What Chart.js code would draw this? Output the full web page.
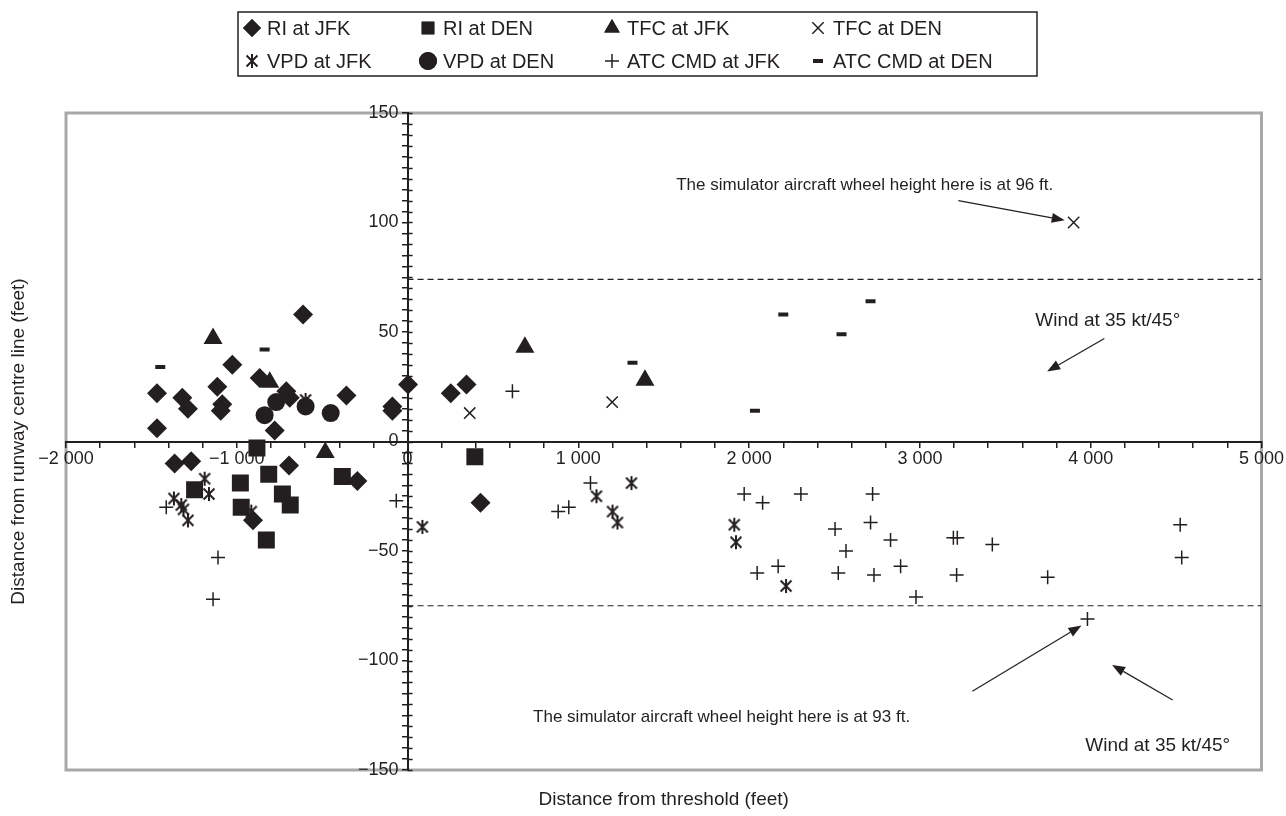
<!DOCTYPE html>
<html>
<head>
<meta charset="utf-8">
<script src="https://cdn.jsdelivr.net/npm/chart.js@4"></script>
<style>
  html, body { margin: 0; padding: 0; background: #fff; }
</style>
</head>
<body>
<canvas id="chart" width="1286" height="816"></canvas>
<script>
// Series: [distance from threshold, distance from centre line] in feet
const seriesNames = ['RI at JFK', 'RI at DEN', 'TFC at JFK', 'TFC at DEN',
                     'VPD at JFK', 'VPD at DEN', 'ATC CMD at JFK', 'ATC CMD at DEN'];

const riJfk = [[-612, 58], [-1026, 35], [-866, 29], [-1114, 25], [-1467, 22], [-1319, 20],
  [-1286, 15], [-1085, 17], [-1094, 14], [-710, 23], [-690, 20], [-358, 21], [-1467, 6],
  [-778, 5], [3, 26], [-89, 16], [-89, 14], [253, 22], [345, 26], [-1364, -10], [-1267, -9],
  [-694, -11], [-905, -36], [-294, -18], [427, -28]];
const riDen = [[-882, -3], [-813, -15], [-1247, -22], [-979, -19], [-974, -30], [-733, -24],
  [-687, -29], [-827, -45], [-382, -16], [394, -7]];
const tfcJfk = [[-1139, 47], [-807, 27], [-482, -5], [687, 43], [1390, 28]];
const tfcDen = [[364, 13], [1198, 18], [3900, 100]];
const vpdJfk = [[-597, 19], [87, -39], [1106, -25], [1200, -32], [1229, -37], [1311, -19],
  [1913, -38], [1923, -46], [2216, -66], [-1368, -26], [-1325, -29], [-1312, -31],
  [-1286, -36], [-1188, -17], [-1163, -24], [-915, -32]];
const vpdDen = [[-837, 12], [-769, 18], [-597, 16], [-450, 13]];
const atcJfk = [[-1413, -30], [-1110, -53], [-1139, -72], [-66, -27], [614, 23], [944, -30],
  [882, -32], [1071, -19], [1971, -24], [2079, -28], [2303, -24], [2723, -24], [2503, -40],
  [2711, -37], [2828, -45], [2567, -50], [3196, -44], [3219, -44], [2047, -60], [2170, -57],
  [2522, -60], [2731, -61], [2887, -57], [3215, -61], [2977, -71], [3424, -47], [3748, -62],
  [4524, -38], [4533, -53], [3981, -81]];
const atcDen = [[-1448, 34], [-837, 42], [1317, 36], [2034, 14], [2200, 58], [2541, 49], [2711, 64]];

// dashed lateral limits
const limitFrom = 0, limitTo = 5000;
const limitUpper = 74, limitLower = -75;

// axis ranges
const xMin = -2000, xMax = 5000, xStep = 200, xLabelEvery = 1000;
const yMin = -150, yMax = 150, yStep = 5, yLabelEvery = 50;

const INK = '#231f20';
const FONT = '"Liberation Sans", Arial, Helvetica, sans-serif';

function toXY(pairs) { return pairs.map(p => ({ x: p[0], y: p[1] })); }

function fmt(v) {
  const s = Math.abs(v).toString().replace(/\B(?=(\d{3})+(?!\d))/g, ' ');
  return (v < 0 ? '\u2212' : '') + s;
}

// asterisk marker (vertical bar plus an X)
function makeAsterisk(size) {
  const c = document.createElement('canvas');
  c.width = size; c.height = size;
  const g = c.getContext('2d');
  const m = size / 2, r = size / 2 - 1, d = r * 0.78;
  g.strokeStyle = INK;
  g.lineWidth = 2;
  g.beginPath();
  g.moveTo(m, m - r); g.lineTo(m, m + r);
  g.moveTo(m - d, m - d); g.lineTo(m + d, m + d);
  g.moveTo(m + d, m - d); g.lineTo(m - d, m + d);
  g.stroke();
  return c;
}
const asterisk = makeAsterisk(16);

function series(i, pairs, style, radius, extra) {
  return Object.assign({
    label: seriesNames[i],
    data: toXY(pairs),
    pointStyle: style,
    pointRadius: radius,
    pointHoverRadius: radius,
    backgroundColor: INK,
    borderColor: INK,
    borderWidth: 0,
    showLine: false
  }, extra || {});
}

function limitLine(y) {
  return {
    type: 'line',
    label: '',
    data: [{ x: limitFrom, y: y }, { x: limitTo, y: y }],
    borderColor: INK,
    borderWidth: 1.2,
    borderDash: [6, 4],
    pointRadius: 0,
    showLine: true,
    fill: false
  };
}

// annotation texts and arrows, positioned in data units
const notes = [
  { text: 'The simulator aircraft wheel height here is at 96 ft.', x: 1573, y: 117, size: 17 },
  { text: 'Wind at 35 kt/45\u00b0', x: 3676, y: 55, size: 19 },
  { text: 'The simulator aircraft wheel height here is at 93 ft.', x: 735, y: -126, size: 17 },
  { text: 'Wind at 35 kt/45\u00b0', x: 3968, y: -139, size: 19 }
];
const arrows = [
  { from: [3225, 110], to: [3848, 101] },
  { from: [4080, 47], to: [3745, 32] },
  { from: [3307, -114], to: [3946, -84] },
  { from: [4480, -118], to: [4125, -102] }
];

// legend grid
const legendBox = { left: 238, top: 12, right: 1037, bottom: 76 };
const legendCols = [252, 428, 612, 818];
const legendRows = [28, 61];

function drawArrow(ctx, x1, y1, x2, y2) {
  const a = Math.atan2(y2 - y1, x2 - x1);
  const hl = 13, hw = 5;
  const bx = x2 - hl * Math.cos(a), by = y2 - hl * Math.sin(a);
  ctx.beginPath();
  ctx.moveTo(x1, y1);
  ctx.lineTo(bx, by);
  ctx.stroke();
  ctx.beginPath();
  ctx.moveTo(x2, y2);
  ctx.lineTo(bx + hw * Math.sin(a), by - hw * Math.cos(a));
  ctx.lineTo(bx - hw * Math.sin(a), by + hw * Math.cos(a));
  ctx.closePath();
  ctx.fill();
}

const decor = {
  id: 'decor',
  beforeDraw(chart) {
    const { ctx, chartArea: a } = chart;
    ctx.save();
    ctx.strokeStyle = '#a8a8a8';
    ctx.lineWidth = 3;
    ctx.strokeRect(a.left, a.top, a.right - a.left, a.bottom - a.top);
    ctx.restore();
  },
  afterDraw(chart) {
    const { ctx, chartArea: a } = chart;
    const xs = chart.scales.x, ys = chart.scales.y;
    ctx.save();

    // y ticks also poke out to the right of the axis
    const x0 = xs.getPixelForValue(0);
    ctx.strokeStyle = INK;
    ctx.lineWidth = 1.5;
    ctx.beginPath();
    ys.ticks.forEach(t => {
      const py = Math.round(ys.getPixelForValue(t.value)) + 0.5;
      ctx.moveTo(x0, py);
      ctx.lineTo(x0 + 5, py);
    });
    ctx.stroke();

    // axis titles
    ctx.fillStyle = INK;
    ctx.font = '19px ' + FONT;
    ctx.textAlign = 'center';
    ctx.textBaseline = 'middle';
    ctx.fillText('Distance from threshold (feet)', (a.left + a.right) / 2, a.bottom + 30);
    ctx.save();
    ctx.translate(19, (a.top + a.bottom) / 2);
    ctx.rotate(-Math.PI / 2);
    ctx.fillText('Distance from runway centre line (feet)', 0, 0);
    ctx.restore();

    // annotations
    ctx.textAlign = 'left';
    notes.forEach(n => {
      ctx.font = n.size + 'px ' + FONT;
      ctx.fillText(n.text, xs.getPixelForValue(n.x), ys.getPixelForValue(n.y));
    });
    ctx.lineWidth = 1.2;
    arrows.forEach(ar => drawArrow(ctx,
      xs.getPixelForValue(ar.from[0]), ys.getPixelForValue(ar.from[1]),
      xs.getPixelForValue(ar.to[0]), ys.getPixelForValue(ar.to[1])));

    // legend
    const b = legendBox;
    ctx.lineWidth = 1.5;
    ctx.strokeRect(b.left, b.top, b.right - b.left, b.bottom - b.top);
    ctx.font = '20px ' + FONT;
    chart.data.datasets.slice(0, seriesNames.length).forEach((ds, i) => {
      const cx = legendCols[i % 4], cy = legendRows[Math.floor(i / 4)];
      ctx.fillStyle = INK;
      ctx.strokeStyle = INK;
      ctx.lineWidth = ds.borderWidth;
      const r = Math.min(ds.pointRadius, 9);
      if (Chart.helpers && Chart.helpers.drawPoint) {
        Chart.helpers.drawPoint(ctx, { pointStyle: ds.pointStyle, radius: r,
          borderWidth: ds.borderWidth, rotation: 0 }, cx, cy);
        if (ds.borderWidth === 0 && typeof ds.pointStyle === 'string') ctx.fill();
      }
      ctx.fillStyle = INK;
      ctx.fillText(ds.label, cx + 15, cy + 1);
    });
    ctx.restore();
  }
};

const datasets = [
  series(0, riJfk, 'rectRot', 10),
  series(1, riDen, 'rect', 12),
  series(2, tfcJfk, 'triangle', 11),
  series(3, tfcDen, 'crossRot', 8, { borderWidth: 1.5 }),
  series(4, vpdJfk, asterisk, 8),
  series(5, vpdDen, 'circle', 9),
  series(6, atcJfk, 'cross', 7, { borderWidth: 1.5 }),
  series(7, atcDen, 'line', 5, { borderWidth: 4 }),
  limitLine(limitUpper),
  limitLine(limitLower)
];

new Chart(document.getElementById('chart'), {
  type: 'scatter',
  data: { datasets: datasets },
  options: {
    responsive: false,
    animation: false,
    devicePixelRatio: 1,
    layout: { padding: { left: 66, right: 23, top: 113, bottom: 46 } },
    plugins: {
      legend: { display: false },
      tooltip: { enabled: false }
    },
    scales: {
      x: {
        type: 'linear',
        min: xMin, max: xMax,
        position: { y: 0 },
        afterFit: s => { s.height = 0; },
        border: { display: true, color: INK, width: 2 },
        grid: { drawOnChartArea: false, drawTicks: true, tickLength: 5, color: INK, lineWidth: 1.5 },
        ticks: {
          stepSize: xStep, autoSkip: false, maxRotation: 0, padding: 2,
          color: INK, font: { family: FONT, size: 18 },
          callback: v => (v % xLabelEvery === 0 ? fmt(v) : '')
        }
      },
      y: {
        type: 'linear',
        min: yMin, max: yMax,
        position: { x: 0 },
        afterFit: s => { s.width = 0; },
        border: { display: true, color: INK, width: 2 },
        grid: { drawOnChartArea: false, drawTicks: true, tickLength: 5, color: INK, lineWidth: 1.5 },
        ticks: {
          stepSize: yStep, autoSkip: false,
          color: INK, font: { family: FONT, size: 18 },
          // en space keeps the label clear of the axis line
          callback: v => (v % yLabelEvery === 0 ? fmt(v) + '\u2002' : '')
        }
      }
    }
  },
  plugins: [decor]
});
</script>
</body>
</html>
